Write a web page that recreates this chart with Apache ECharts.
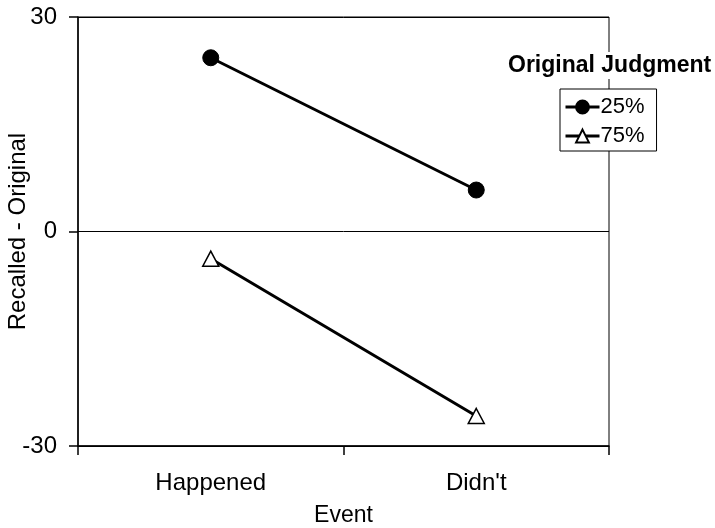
<!DOCTYPE html>
<html>
<head>
<meta charset="utf-8">
<script src="https://cdn.jsdelivr.net/npm/echarts@6/dist/echarts.min.js"></script>
<style>
  html, body { margin: 0; padding: 0; background: #fff; }
  #chart { width: 715px; height: 528px; }
</style>
</head>
<body>
<div id="chart"></div>
<script>
// Event categories on the x axis
const categories = ['Happened', "Didn't"];
// Recalled minus original, per original judgment
const low25 = [24.3, 5.8];
const high75 = [-3.8, -25.8];
const yTicks = { min: -30, max: 30, step: 30 };

const chart = echarts.init(document.getElementById('chart'));
const font = 'Liberation Sans, Arial, sans-serif';

const option = {
  animation: false,
  backgroundColor: '#fff',
  title: {
    text: 'Original Judgment',
    left: 506,
    top: 52,
    backgroundColor: '#fff',
    padding: [2, 2],
    textStyle: { fontFamily: font, fontSize: 23, fontWeight: 'bold', color: '#000' },
  },
  legend: {
    orient: 'vertical',
    left: 560,
    top: 89,
    backgroundColor: '#fff',
    borderColor: '#000',
    borderWidth: 1,
    padding: [7, 12, 4, 4],
    itemGap: 7,
    itemWidth: 34,
    itemHeight: 16,
    lineStyle: { width: 3, color: '#000' },
    textStyle: { fontFamily: font, fontSize: 22, color: '#000', padding: [0, 0, 0, -4] },
    data: ['25%', '75%'],
  },
  grid: {
    left: 78,
    top: 17,
    right: 106,
    bottom: 82,
    containLabel: false,
    outerBoundsMode: 'none',
    show: true,
    borderColor: '#000',
    borderWidth: 1,
  },
  xAxis: {
    type: 'category',
    data: categories,
    boundaryGap: true,
    name: 'Event',
    nameLocation: 'middle',
    nameGap: 58,
    nameMoveOverlap: false,
    nameTextStyle: { fontFamily: font, fontSize: 23, color: '#000' },
    axisLine: { onZero: false, lineStyle: { color: '#000', width: 1.5 } },
    axisTick: { show: true, length: 9, lineStyle: { color: '#000', width: 1.5 } },
    axisLabel: { fontFamily: font, fontSize: 24, color: '#000', margin: 25 },
    splitLine: { show: false },
  },
  yAxis: {
    type: 'value',
    min: yTicks.min,
    max: yTicks.max,
    interval: yTicks.step,
    name: 'Recalled - Original',
    nameLocation: 'middle',
    nameGap: 48,
    nameMoveOverlap: false,
    nameTextStyle: { fontFamily: font, fontSize: 24, color: '#000' },
    axisLine: { show: true, lineStyle: { color: '#000', width: 1.5 } },
    axisTick: { show: true, length: 9, lineStyle: { color: '#000', width: 1.5 } },
    axisLabel: { fontFamily: font, fontSize: 24, color: '#000', margin: 21 },
    splitLine: { show: true, lineStyle: { color: '#000', width: 1 } },
  },
  series: [
    {
      name: '25%',
      type: 'line',
      data: low25,
      symbol: 'circle',
      symbolSize: 16,
      lineStyle: { color: '#000', width: 3 },
      itemStyle: { color: '#000', borderColor: '#000', borderWidth: 1 },
    },
    {
      name: '75%',
      type: 'line',
      data: high75,
      symbol: 'triangle',
      symbolSize: [16, 15],
      lineStyle: { color: '#000', width: 3 },
      itemStyle: { color: '#fff', borderColor: '#000', borderWidth: 1.5 },
    },
  ],
};

chart.setOption(option);
</script>
</body>
</html>
